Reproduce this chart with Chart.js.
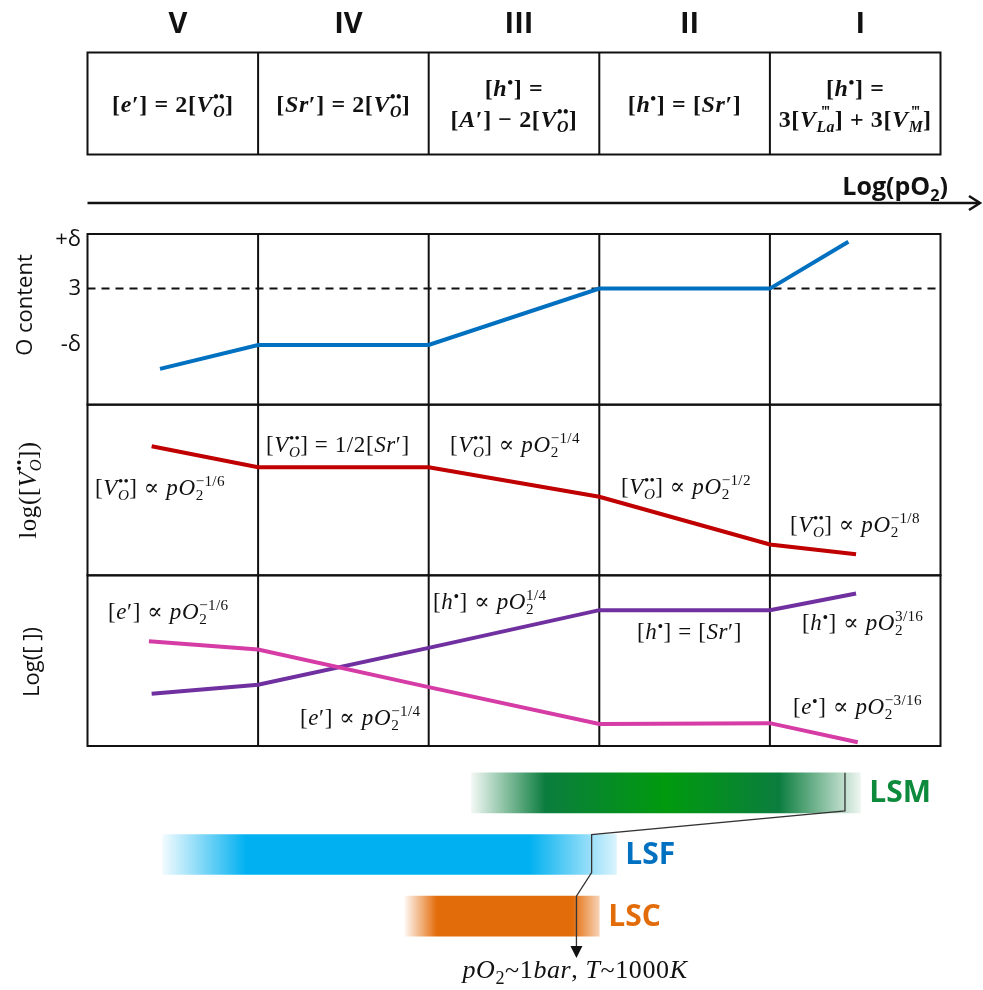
<!DOCTYPE html>
<html>
<head>
<meta charset="utf-8">
<title>Defect regimes vs log(pO2)</title>
<script src="https://cdn.jsdelivr.net/npm/chart.js@4.4.1/dist/chart.umd.min.js"></script>
<style>
  body { margin: 0; background: #fff; }
  #wrap { position: relative; width: 983px; height: 990px; overflow: hidden; }
  #wrap canvas { position: absolute; left: 0; top: 0; }
  .t { position: absolute; white-space: nowrap; color: #111; }
  .m { font-family: 'Liberation Serif', 'DejaVu Serif', serif; font-size: 23px; letter-spacing: 0.6px; }
  .sans { font-family: 'Open Sans', 'DejaVu Sans', sans-serif; letter-spacing: 0; }
  .cell { font-weight: bold; text-align: center; line-height: 31px; font-size: 24px; transform: translate(-50%, -50%); }
  .ann { transform: translateY(-50%); }
  .mid { transform: translate(-50%, -50%); }
  .rot { transform: translate(-50%, -50%) rotate(-90deg); }
  .ss { display: inline-block; vertical-align: -0.32em; font-size: 0.66em; line-height: 0.95; letter-spacing: 0.3px; }
  .ss sup, .ss sub { display: block; font-size: 1em; line-height: 0.95; }
  .d { font-size: 0.7em; vertical-align: 0.45em; line-height: 0; }
</style>
</head>
<body>
<div id="wrap">
  <canvas id="panels" width="983" height="990"></canvas>
  <canvas id="ranges" width="983" height="990"></canvas>
  <div id="labels"></div>
</div>
<script>
// regions of the defect model, low pO2 -> high pO2 (x = region index)
const regions = ['V', 'IV', 'III', 'II', 'I'];

// O content panel
const oX = [0.425, 1, 2, 3, 4, 4.46];
const oContent = [2.1, 3.5, 3.5, 6.8, 6.8, 9.55];
const oTickValues = [9.65, 6.8, 3.5];
const oTickLabels = ['+δ', '3', '-δ'];

// log[Vo] panel
const vX = [0.376, 1, 2, 3, 4, 4.505];
const vacancies = [7.56, 6.33, 6.33, 4.6, 1.81, 1.23];

// Log([ ]) panel: electrons and holes
const eX = [0.36, 1, 2, 3, 4, 4.515];
const electrons = [6.14, 5.65, 3.45, 1.29, 1.34, 0.22];
const hX = [0.376, 1, 2, 3, 4, 4.505];
const holes = [3.06, 3.59, 5.75, 7.96, 7.96, 8.94];

// stability windows of the materials along log(pO2)
const materials = ['LSM', 'LSF', 'LSC'];
const windowStart = [2.25, 0.44, 1.86];
const windowEnd = [4.53, 3.10, 3.00];
const ambientX = [4.44, 2.955, 2.866]; // pO2 ~ 1 bar, T ~ 1000 K

const labelColors = ['#0e8a3c', '#0070c0', '#e36c0a'];
const fadeStops = [
  [[0, 'rgba(11,125,62,0.05)'], [0.19, '#0b7d3e'], [0.5, '#009a0e'], [0.79, '#0b7d3e'], [1, 'rgba(11,125,62,0.08)']],
  [[0, 'rgba(0,176,240,0.05)'], [0.185, '#00b0f0'], [0.807, '#00b0f0'], [1, 'rgba(0,176,240,0.15)']],
  [[0, 'rgba(227,108,10,0.05)'], [0.165, '#e36c0a'], [0.86, '#e36c0a'], [1, 'rgba(227,108,10,0.3)']]
];

function pts(xs, ys) {
  return xs.map((x, i) => ({ x: x, y: ys[i] }));
}

function seg(ctx, x0, y0, x1, y1) {
  ctx.beginPath();
  ctx.moveTo(x0, y0);
  ctx.lineTo(x1, y1);
  ctx.stroke();
}

// grid, table, axis arrow, ticks
const frame = {
  id: 'frame',
  beforeDatasetsDraw(chart) {
    const { ctx, chartArea: a, scales } = chart;
    const x = scales.x;
    ctx.save();
    ctx.strokeStyle = '#111';
    ctx.lineWidth = 2;
    ['yO', 'yV', 'yE'].forEach(id => {
      const s = scales[id];
      ctx.strokeRect(a.left, s.top, a.right - a.left, s.bottom - s.top);
    });
    for (let i = 1; i < regions.length; i++) {
      const px = x.getPixelForValue(i);
      seg(ctx, px, a.top, px, a.bottom);
    }
    // regime table
    const tTop = 52.5, tBot = 154.5;
    ctx.strokeRect(a.left, tTop, a.right - a.left, tBot - tTop);
    for (let i = 1; i < regions.length; i++) {
      const px = x.getPixelForValue(i);
      seg(ctx, px, tTop, px, tBot);
    }
    // log(pO2) arrow
    ctx.lineWidth = 2.5;
    seg(ctx, a.left, 203, 978, 203);
    ctx.beginPath();
    ctx.moveTo(969, 196);
    ctx.lineTo(980, 203);
    ctx.lineTo(969, 210);
    ctx.stroke();
    // stoichiometry reference
    ctx.lineWidth = 2;
    ctx.setLineDash([8, 6]);
    const yd = scales.yO.getPixelForValue(oTickValues[1]);
    seg(ctx, a.left, yd, a.right, yd);
    ctx.setLineDash([]);
    // O content ticks
    ctx.fillStyle = '#111';
    ctx.font = '22px "Open Sans", sans-serif';
    ctx.textAlign = 'right';
    ctx.textBaseline = 'middle';
    oTickValues.forEach((v, i) => {
      ctx.fillText(oTickLabels[i], 81, scales.yO.getPixelForValue(v));
    });
    // region numerals
    ctx.font = 'bold 29px "Open Sans", sans-serif';
    ctx.textAlign = 'center';
    regions.forEach((r, i) => {
      ctx.fillText(r, x.getPixelForValue(i + 0.5) + 5, 25);
    });
    ctx.restore();
  }
};

function lineSet(label, xs, ys, color, axis) {
  return {
    label: label,
    data: pts(xs, ys),
    yAxisID: axis,
    borderColor: color,
    borderWidth: 4,
    pointRadius: 0,
    tension: 0,
    fill: false
  };
}

const panelAxis = (w) => ({ type: 'linear', min: 0, max: 10, display: false, stack: 'panels', stackWeight: 1, weight: w });

const panelsChart = new Chart(document.getElementById('panels'), {
  type: 'line',
  data: {
    datasets: [
      lineSet('O content', oX, oContent, '#0070c0', 'yO'),
      lineSet('[Vo]', vX, vacancies, '#c00000', 'yV'),
      lineSet('[e\']', eX, electrons, '#d63ca6', 'yE'),
      lineSet('[h]', hX, holes, '#7030a0', 'yE')
    ]
  },
  options: {
    responsive: false,
    animation: false,
    layout: { padding: { left: 87.5, right: 42.5, top: 234, bottom: 244 } },
    plugins: { legend: { display: false }, tooltip: { enabled: false } },
    scales: {
      x: { type: 'linear', min: 0, max: 5, display: false },
      yO: panelAxis(3),
      yV: panelAxis(2),
      yE: panelAxis(1)
    }
  },
  plugins: [frame]
});

function windowFill(c) {
  const chart = c.chart;
  const i = c.dataIndex;
  if (!chart.chartArea || i === undefined) return '#ccc';
  const x = chart.scales.x;
  const g = chart.ctx.createLinearGradient(x.getPixelForValue(windowStart[i]), 0, x.getPixelForValue(windowEnd[i]), 0);
  fadeStops[i].forEach(s => g.addColorStop(s[0], s[1]));
  return g;
}

// material names and the pO2 ~ 1 bar pointer
const rangeDecor = {
  id: 'rangeDecor',
  afterDatasetsDraw(chart) {
    const { ctx, scales: { x } } = chart;
    const bars = chart.getDatasetMeta(0).data;
    ctx.save();
    ctx.font = 'bold 30px "Open Sans", sans-serif';
    ctx.textBaseline = 'middle';
    bars.forEach((bar, i) => {
      ctx.fillStyle = labelColors[i];
      ctx.fillText(materials[i], x.getPixelForValue(windowEnd[i]) + 9, bar.y + 1);
    });
    ctx.strokeStyle = '#333';
    ctx.lineWidth = 1.3;
    ctx.beginPath();
    let tipX = 0;
    bars.forEach((bar, i) => {
      const px = x.getPixelForValue(ambientX[i]);
      const top = bar.y - bar.height / 2;
      const bot = bar.y + bar.height / 2 - 2;
      if (i === 0) ctx.moveTo(px, top); else ctx.lineTo(px, top);
      ctx.lineTo(px, i === bars.length - 1 ? 947 : bot);
      tipX = px;
    });
    ctx.stroke();
    ctx.fillStyle = '#111';
    ctx.beginPath();
    ctx.moveTo(tipX - 6, 946);
    ctx.lineTo(tipX + 6, 946);
    ctx.lineTo(tipX, 958);
    ctx.closePath();
    ctx.fill();
    ctx.restore();
  }
};

const rangesChart = new Chart(document.getElementById('ranges'), {
  type: 'bar',
  data: {
    labels: materials,
    datasets: [{
      label: 'stability window',
      data: windowStart.map((s, i) => [s, windowEnd[i]]),
      backgroundColor: windowFill,
      borderWidth: 0,
      borderSkipped: false,
      barThickness: 40
    }]
  },
  options: {
    indexAxis: 'y',
    responsive: false,
    animation: false,
    layout: { padding: { left: 87.5, right: 42.5, top: 762, bottom: 43 } },
    plugins: { legend: { display: false }, tooltip: { enabled: false } },
    scales: {
      x: { type: 'linear', min: 0, max: 5, display: false },
      y: { display: false }
    }
  },
  plugins: [rangeDecor]
});

// text overlays
const VO = '<i>V</i><span class="ss"><sup>••</sup><sub><i>O</i></sub></span>';
const HD = '<i>h</i><span class="d">•</span>';
function pO2(exp) {
  return '<i>pO</i><span class="ss"><sup>' + exp + '</sup><sub>2</sub></span>';
}

const cells = [
  `[<i>e</i>′] = 2[${VO}]`,
  `[<i>Sr</i>′] = 2[${VO}]`,
  `[${HD}] =<br>[<i>A</i>′] − 2[${VO}]`,
  `[${HD}] = [<i>Sr</i>′]`,
  `[${HD}] =<br>3[<i>V</i><span class="ss"><sup>‴</sup><sub><i>La</i></sub></span>] + 3[<i>V</i><span class="ss"><sup>‴</sup><sub><i>M</i></sub></span>]`
];

const notes = [
  { html: `[${VO}] ∝ ${pO2('−1/6')}`, x: 95, y: 488 },
  { html: `[${VO}] = 1/2[<i>Sr</i>′]`, x: 266, y: 445 },
  { html: `[${VO}] ∝ ${pO2('−1/4')}`, x: 450, y: 445 },
  { html: `[${VO}] ∝ ${pO2('−1/2')}`, x: 621, y: 487 },
  { html: `[${VO}] ∝ ${pO2('−1/8')}`, x: 790, y: 525 },
  { html: `[<i>e</i>′] ∝ ${pO2('−1/6')}`, x: 108, y: 612 },
  { html: `[<i>e</i>′] ∝ ${pO2('−1/4')}`, x: 300, y: 718 },
  { html: `[${HD}] ∝ ${pO2('1/4')}`, x: 433, y: 602 },
  { html: `[${HD}] = [<i>Sr</i>′]`, x: 637, y: 632 },
  { html: `[${HD}] ∝ ${pO2('3/16')}`, x: 802, y: 623 },
  { html: `[<i>e</i><span class="d">•</span>] ∝ ${pO2('−3/16')}`, x: 793, y: 707 }
];

const layer = document.getElementById('labels');
function addText(html, cls, left, top, style) {
  const d = document.createElement('div');
  d.className = 't ' + cls;
  d.style.left = left + 'px';
  d.style.top = top + 'px';
  if (style) d.style.cssText += style;
  d.innerHTML = html;
  layer.appendChild(d);
  return d;
}

const px = panelsChart.scales.x;
cells.forEach((html, i) => addText(html, 'm cell', px.getPixelForValue(i + 0.5), 104));
notes.forEach(n => addText(n.html, 'm ann', n.x, n.y));

addText('O content', 'sans rot', 23, 305, 'font-size:22px;');
addText(`log([${VO}])`, 'm rot', 28, 490, 'font-size:25px;');
addText('Log([ ])', 'sans rot', 30, 662, 'font-size:22px;');
addText('Log(pO<sub style="font-size:0.65em">2</sub>)', 'sans', 0, 168, 'left:auto;right:35px;font-size:25px;font-weight:bold;');
addText('<i>pO</i><sub style="font-size:0.7em">2</sub>~1<i>bar</i>, <i>T</i>~1000<i>K</i>', 'm mid', 575, 972, 'font-size:26px;');
</script>
</body>
</html>
